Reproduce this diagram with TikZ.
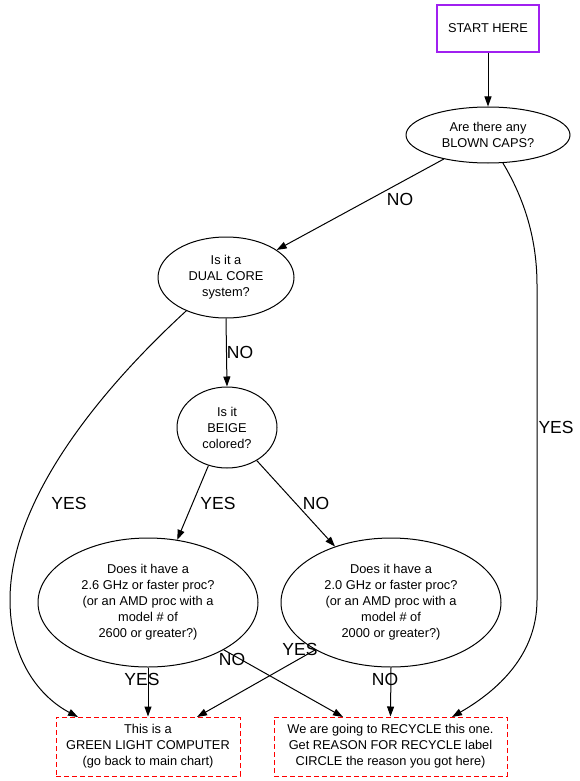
\documentclass[tikz,border=0pt]{standalone}
\usepackage{fontspec}
\setmainfont{Liberation Sans}
\usetikzlibrary{shapes.geometric,arrows.meta}
\definecolor{gvpurple}{HTML}{A020F0}
\tikzset{
  every node/.style={inner sep=0pt},
  ntext/.style={font=\fontsize{12.8}{16}\selectfont, align=center},
  qnode/.style={ntext, draw=black, line width=1pt, ellipse},
  startbox/.style={ntext, draw=gvpurple, line width=2pt, rectangle},
  endbox/.style={ntext, draw=red, line width=1pt, rectangle, dash pattern=on 5pt off 3pt},
  elabel/.style={font=\fontsize{17.5}{20}\selectfont},
  edge/.style={draw=black, line width=1pt, -{Triangle[length=10pt,width=7pt]}},
}
\begin{document}
\begin{tikzpicture}[x=1pt,y=-1pt]
\useasboundingbox (0,0) rectangle (580,781);
\fill[white] (0,0) rectangle (580,781);

\node[startbox, minimum width=102pt, minimum height=47pt] (start) at (488,28.5) {START HERE};
\node[qnode, minimum width=164pt, minimum height=56pt] (caps) at (488,135) {Are there any\\BLOWN CAPS?};
\node[qnode, minimum width=136pt, minimum height=81pt] (dual) at (226,277.5) {Is it a\\DUAL CORE\\system?};
\node[qnode, minimum width=100pt, minimum height=81pt] (beige) at (227,427.5) {Is it\\BEIGE\\colored?};
\node[qnode, minimum width=220pt, minimum height=129pt] (fast) at (148,602.5) {Does it have a\\2.6 GHz or faster proc?\\(or an AMD proc with a\\model \# of\\2600 or greater?)};
\node[qnode, minimum width=220pt, minimum height=129pt] (slow) at (391,602.5) {Does it have a\\2.0 GHz or faster proc?\\(or an AMD proc with a\\model \# of\\2000 or greater?)};
\node[endbox, minimum width=184pt, minimum height=59pt] (green) at (148,746.5) {This is a\\GREEN LIGHT COMPUTER\\(go back to main chart)};
\node[endbox, minimum width=233pt, minimum height=59pt] (recycle) at (390.5,746.5) {We are going to RECYCLE this one.\\Get REASON FOR RECYCLE label\\CIRCLE the reason you got here)};

\coordinate (ga) at (78,717);
\coordinate (gb) at (197,717);
\coordinate (ra) at (343,717);
\coordinate (rb) at (452,717);

\draw[edge] (start.south) -- (caps.north);
\draw[edge] (caps) -- (dual);
\draw[edge] (caps.-62) .. controls (525,200) and (537,240) .. (537,285) -- (537,600) .. controls (537,660) and (490,695) .. (rb);
\draw[edge] (dual.-140) .. controls (100,390) and (10,500) .. (10,600) .. controls (10,660) and (40,697) .. (ga);
\draw[edge] (dual.south) -- (beige.north);
\draw[edge] (beige.-116) -- (fast.65);
\draw[edge] (beige.-48) -- (slow.135);
\draw[edge] (fast.south) -- (green.north);
\draw[edge] (fast.-32) -- (ra);
\draw[edge] (slow.-148) -- (gb);
\draw[edge] (slow.south) -- (recycle.north);

\node[elabel] (l1) at (400,199) {NO};
\node[elabel] (l2) at (556,427) {YES};
\node[elabel] (l3) at (69,503) {YES};
\node[elabel] (l4) at (240,352) {NO};
\node[elabel] (l5) at (218,503) {YES};
\node[elabel] (l6) at (316,503) {NO};
\node[elabel] (l7) at (142,679) {YES};
\node[elabel] (l8) at (232,659) {NO};
\node[elabel] (l9) at (300,649) {YES};
\node[elabel] (l10) at (385,679) {NO};
\end{tikzpicture}
\end{document}
